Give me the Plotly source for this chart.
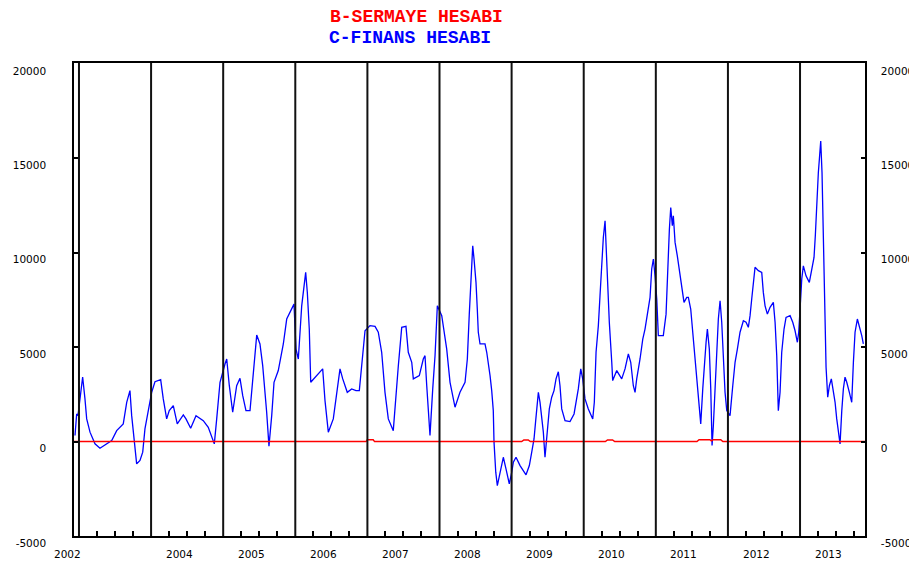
import plotly.graph_objects as go

# ---- data: C-FINANS HESABI (blue), time in decimal years ----
fin_t = [2002.945, 2002.968, 2002.986, 2003.028, 2003.051, 2003.083, 2003.107, 2003.153, 2003.222, 2003.291,
         2003.384, 2003.454, 2003.523, 2003.614, 2003.662, 2003.707, 2003.731, 2003.777, 2003.800, 2003.846,
         2003.884, 2003.915, 2003.961, 2004.008, 2004.054, 2004.133, 2004.169, 2004.216, 2004.252, 2004.308,
         2004.363, 2004.447, 2004.484, 2004.549, 2004.623, 2004.724, 2004.793, 2004.877, 2004.910, 2004.956,
         2005.025, 2005.049, 2005.085, 2005.132, 2005.187, 2005.233, 2005.271, 2005.316, 2005.372, 2005.409,
         2005.427, 2005.465, 2005.510, 2005.548, 2005.603, 2005.635, 2005.673, 2005.705, 2005.764, 2005.834,
         2005.881, 2005.950, 2005.982, 2006.010, 2006.042, 2006.089, 2006.144, 2006.167, 2006.194, 2006.214,
         2006.297, 2006.380, 2006.412, 2006.458, 2006.527, 2006.574, 2006.620, 2006.658, 2006.721, 2006.782,
         2006.842, 2006.888, 2006.921, 2006.967, 2007.036, 2007.106, 2007.151, 2007.198, 2007.244, 2007.290,
         2007.359, 2007.397, 2007.429, 2007.476, 2007.535, 2007.567, 2007.615, 2007.637, 2007.720, 2007.775,
         2007.799, 2007.823, 2007.868, 2007.906, 2007.938, 2007.970, 2008.031, 2008.100, 2008.146, 2008.215,
         2008.284, 2008.354, 2008.386, 2008.413, 2008.447, 2008.461, 2008.479, 2008.506, 2008.524, 2008.538,
         2008.562, 2008.631, 2008.655, 2008.677, 2008.701, 2008.724, 2008.746, 2008.756, 2008.780, 2008.802,
         2008.839, 2008.885, 2008.922, 2008.968, 2009.002, 2009.024, 2009.061, 2009.117, 2009.200, 2009.246,
         2009.279, 2009.311, 2009.334, 2009.371, 2009.394, 2009.418, 2009.440, 2009.463, 2009.495, 2009.523,
         2009.556, 2009.588, 2009.616, 2009.648, 2009.671, 2009.695, 2009.741, 2009.810, 2009.866, 2009.893,
         2009.925, 2009.959, 2009.986, 2010.018, 2010.064, 2010.125, 2010.147, 2010.171, 2010.203, 2010.226,
         2010.250, 2010.272, 2010.296, 2010.310, 2010.328, 2010.355, 2010.389, 2010.402, 2010.458, 2010.527,
         2010.573, 2010.619, 2010.652, 2010.688, 2010.712, 2010.735, 2010.781, 2010.819, 2010.850, 2010.882,
         2010.920, 2010.943, 2010.966, 2010.989, 2011.013, 2011.035, 2011.104, 2011.142, 2011.160, 2011.188,
         2011.207, 2011.229, 2011.243, 2011.267, 2011.298, 2011.326, 2011.346, 2011.373, 2011.391, 2011.429,
         2011.451, 2011.484, 2011.507, 2011.530, 2011.558, 2011.576, 2011.604, 2011.623, 2011.651, 2011.669,
         2011.697, 2011.715, 2011.742, 2011.762, 2011.780, 2011.798, 2011.821, 2011.845, 2011.867, 2011.891,
         2011.914, 2011.936, 2011.960, 2011.984, 2012.029, 2012.067, 2012.099, 2012.131, 2012.168, 2012.214,
         2012.251, 2012.283, 2012.307, 2012.330, 2012.353, 2012.376, 2012.422, 2012.469, 2012.491, 2012.515,
         2012.547, 2012.584, 2012.630, 2012.654, 2012.677, 2012.699, 2012.723, 2012.746, 2012.778, 2012.806,
         2012.862, 2012.899, 2012.931, 2012.963, 2012.982, 2013.000, 2013.024, 2013.046, 2013.083, 2013.129,
         2013.163, 2013.194, 2013.212, 2013.232, 2013.254, 2013.268, 2013.287, 2013.305, 2013.323, 2013.343,
         2013.361, 2013.384, 2013.407, 2013.434, 2013.462, 2013.486, 2013.509, 2013.537, 2013.555, 2013.579,
         2013.601, 2013.624, 2013.648, 2013.684, 2013.717, 2013.740, 2013.763, 2013.795, 2013.823, 2013.856,
         2013.878]

fin_v = [320, 1465, 1375, 2790, 3420, 2260, 1200, 500, -120, -350,
         -120, 50, 580, 940, 2080, 2700, 1375, -210, -1180, -1000,
         -560, 670, 1640, 2610, 3170, 3280, 2260, 1200, 1640, 1900,
         940, 1410, 1200, 710, 1375, 1110, 760, -120, 1200, 3140,
         4110, 4375, 2960, 1555, 2960, 3350, 2430, 1640, 1640, 3140,
         4200, 5640, 5170, 4020, 1555, -240, 1375, 3140, 3760, 5170,
         6490, 7020, 7280, 4900, 4375, 7190, 8960, 7900, 5960, 3140,
         3490, 3850, 2170, 500, 1200, 2430, 3850, 3320, 2610, 2790,
         2700, 2700, 4200, 5870, 6140, 6100, 5790, 4730, 2610, 1200,
         580, 2610, 4020, 6050, 6100, 4730, 4200, 3320, 3490, 4375,
         4550, 2960, 320, 2790, 4550, 7190, 6670, 4900, 3140, 1820,
         2610, 3140, 4375, 6750, 9230, 10370, 9670, 8430, 7020, 5790,
         5170, 5170, 4730, 4200, 3490, 2700, 1640, -30, -1620, -2330,
         -1620, -830, -1440, -2240, -1620, -1090, -830, -1270, -1760, -1270,
         -560, 140, 1110, 2610, 2080, 1290, 500, -830, 670, 1730,
         2350, 2700, 3320, 3700, 2960, 1730, 1110, 1060, 1465, 2080,
         2790, 3850, 3320, 2260, 1730, 1200, 2080, 4730, 6140, 7720,
         9310, 10810, 11690, 10280, 8430, 6320, 4200, 3230, 3760, 3320,
         3850, 4640, 4200, 2960, 2610, 3320, 4375, 5430, 5960, 6670,
         7640, 9140, 9670, 8780, 7550, 5610, 5610, 6750, 8960, 11250,
         12400, 11430, 11960, 10550, 9840, 9050, 8430, 7720, 7370, 7640,
         7640, 7020, 5960, 4990, 4020, 3050, 1465, 940, 2790, 4020,
         5260, 5960, 4900, 2790, -210, 850, 2610, 4550, 6490, 7460,
         6320, 4550, 2610, 1640, 1375, 2960, 4200, 4900, 5790, 6400,
         6320, 6050, 6670, 7550, 8610, 9230, 9050, 8960, 7900, 7190,
         6750, 7110, 7370, 6320, 4550, 1640, 2610, 4730, 5960, 6580,
         6670, 6320, 5870, 5260, 5790, 7370, 8610, 9310, 8780, 8430,
         9140, 9750, 10900, 12930, 14250, 14950, 15920, 14250, 10810, 7370,
         3940, 2350, 2960, 3320, 2610, 2080, 1200, 500, -120, 1640,
         2790, 3410, 3140, 2610, 2080, 4200, 5790, 6490, 6140, 5610,
         5170]

# ---- data: B-SERMAYE HESABI (red) ----
ser_t = [2002.931, 2006.980, 2007.000, 2007.080, 2007.100, 2009.140, 2009.170, 2009.230, 2009.260,
         2010.300, 2010.330, 2010.400, 2010.430, 2011.570, 2011.600, 2011.750, 2011.770, 2011.800,
         2011.900, 2011.930, 2013.901]
ser_v = [0, 0, 100, 100, 0, 0, 90, 90, 0,
         0, 90, 90, 0, 0, 100, 100, 40, 100,
         100, 0, 0]

years = list(range(2003, 2014))
year_labels = ["2002", "2004", "2005", "2006", "2007", "2008", "2009", "2010", "2011", "2012", "2013"]
year_label_pos = [2002.84] + [y + 0.39 for y in range(2004, 2014)]
y_ticks = [-5000, 0, 5000, 10000, 15000, 20000]

X_MIN, X_MAX = 2002.931, 2013.901

fig = go.Figure()
fig.add_trace(go.Scatter(x=fin_t, y=fin_v, mode="lines", name="C-FINANS HESABI",
                         line=dict(color="#0000ff", width=1.3), showlegend=False))
fig.add_trace(go.Scatter(x=ser_t, y=ser_v, mode="lines", name="B-SERMAYE HESABI",
                         line=dict(color="#ff0000", width=1.5), showlegend=False, yaxis="y2"))

# year separator lines
for y in years:
    fig.add_shape(type="line", x0=y, x1=y, y0=0, y1=1, xref="x", yref="paper",
                  line=dict(color="#111111", width=2), layer="above")

quarters = [y + q for y in range(2003, 2014) for q in (0.25, 0.5, 0.75)]

tick_font = dict(family="DejaVu Sans", size=10.5, color="#000000")

# the page body adds an 8px offset at top/left, so the figure is sized to fit the window
fig.update_layout(
    width=909, height=552,
    margin=dict(l=66, r=52, t=55, b=24, autoexpand=False),
    paper_bgcolor="white", plot_bgcolor="white",
    xaxis=dict(range=[X_MIN, X_MAX], showgrid=False, zeroline=False, automargin=False,
               showline=True, linecolor="#000000", linewidth=1.5, mirror=True,
               tickmode="array", tickvals=quarters, ticktext=["" for _ in quarters],
               ticks="inside", ticklen=5, tickcolor="#000000", tickwidth=1.5),
    yaxis=dict(range=[-5000, 20050], showgrid=False, zeroline=False, automargin=False,
               showline=True, linecolor="#000000", linewidth=1.5,
               tickmode="array", tickvals=y_ticks, ticktext=[str(v) for v in y_ticks],
               ticks="inside", ticklen=5, tickcolor="#000000", tickwidth=1.5,
               tickfont=tick_font, ticklabelstandoff=24, ticklabelshift=7),
    yaxis2=dict(range=[-5000, 20050], overlaying="y", side="right", showgrid=False,
                zeroline=False, automargin=False, showline=True, linecolor="#000000", linewidth=1.5,
                tickmode="array", tickvals=y_ticks, ticktext=[str(v) for v in y_ticks],
                ticks="inside", ticklen=4, tickcolor="#000000", tickwidth=1.5,
                tickfont=tick_font, ticklabelstandoff=12, ticklabelshift=7),
)

# x-axis year labels (paper x so that the first one, left of the axis, is shown)
for pos, lab in zip(year_label_pos, year_labels):
    fig.add_annotation(x=(pos - X_MIN) / (X_MAX - X_MIN), xref="paper", y=0, yref="paper",
                       yshift=-18, text=lab, showarrow=False, xanchor="center",
                       yanchor="middle", font=tick_font)

# series titles
fig.add_annotation(x=0.321, xref="paper", y=1.097, yref="paper", text="<b>B-SERMAYE HESABI</b>",
                   showarrow=False, xanchor="left", yanchor="middle",
                   font=dict(family="Liberation Mono", size=18, color="#ff0000"))
fig.add_annotation(x=0.320, xref="paper", y=1.052, yref="paper", text="<b>C-FINANS HESABI</b>",
                   showarrow=False, xanchor="left", yanchor="middle",
                   font=dict(family="Liberation Mono", size=18, color="#0000ff"))

fig.write_html("out.html")
